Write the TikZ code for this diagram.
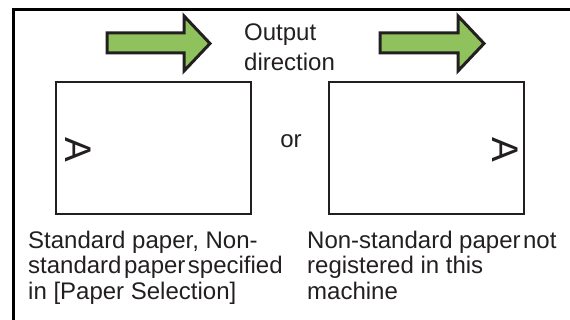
\documentclass[tikz,border=0pt]{standalone}
\usepackage{fontspec}
\setmainfont{Liberation Sans}
\definecolor{arrowgreen}{RGB}{143,194,93}
\definecolor{inkdark}{RGB}{35,31,32}
\begin{document}
\begin{tikzpicture}[x=1pt,y=-1pt,
  txt/.style={anchor=base west,inner sep=0pt,font=\fontsize{24}{24}\selectfont,text=inkdark},
  paperbox/.style={draw=inkdark,line width=1.6pt,fill=white},
  bigarrow/.style={draw=inkdark,line width=3pt,fill=arrowgreen,line join=miter},
  letterA/.style={inner sep=0pt,font=\fontsize{37}{37}\selectfont,rotate=-90,text=inkdark}]
\useasboundingbox (0,0) rectangle (570,320);
% frame (only top and left edges fall in the picture)
\draw[line width=3pt,black] (13.5,320) -- (13.5,9.5) -- (570,9.5);
% arrows
\draw[bigarrow] (107,33) -- (184,33) -- (184,16) -- (210,43.5) -- (184,71) -- (184,53) -- (107,53) -- cycle;
\draw[bigarrow] (380,33) -- (458,33) -- (458,16) -- (484,43.5) -- (458,71) -- (458,53) -- (380,53) -- cycle;
% output direction
\node[txt] (out1) at (244,41) {Output};
\node[txt] (out2) at (244,71) {direction};
% paper boxes
\node[paperbox,minimum width=195pt,minimum height=132pt,inner sep=0pt] (box1) at (153.5,148) {};
\node[paperbox,minimum width=195pt,minimum height=132pt,inner sep=0pt] (box2) at (426.5,148) {};
\node[letterA] (a1) at (78,150) {A};
\node[letterA] (a2) at (505,150) {A};
\node[txt,anchor=base] (or) at (291,148) {or};
% captions
\node[txt] (l1) at (28,249) {Standard paper, Non-};
\node[txt] (l2) at (28,274) {standard\hspace{2.5pt}paper\hspace{2.5pt}specified};
\node[txt] (l3) at (28,299) {in [Paper Selection]};
\node[txt] (r1) at (307,249) {Non-standard paper\hspace{2.5pt}not};
\node[txt] (r2) at (307,274) {registered in this};
\node[txt] (r3) at (307,299) {machine};
\end{tikzpicture}
\end{document}
